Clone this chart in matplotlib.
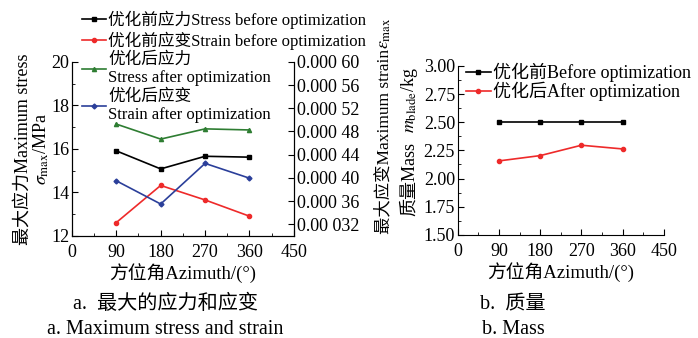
import matplotlib
matplotlib.use("Agg")
import matplotlib.pyplot as plt
from matplotlib.ticker import MultipleLocator, FixedLocator

plt.rcParams['font.family'] = ['Liberation Serif', 'Noto Sans CJK SC']
plt.rcParams['mathtext.fontset'] = 'stix'
plt.rcParams['xtick.direction'] = 'in'
plt.rcParams['ytick.direction'] = 'in'

# data
azimuth = [90, 180, 270, 360]
stress_before = [15.91, 15.08, 15.66, 15.62]
stress_after = [17.14, 16.45, 16.92, 16.87]
strain_before = [0.000323, 0.000387, 0.000362, 0.000334]
strain_after = [0.000395, 0.000355, 0.000425, 0.0003995]
mass_before = [2.50, 2.50, 2.50, 2.50]
mass_after = [2.157, 2.204, 2.296, 2.263]

xticks = [0, 90, 180, 270, 360, 450]
strain_ticks = [0.00032, 0.00036, 0.00040, 0.00044, 0.00048, 0.00052, 0.00056, 0.00060]
strain_labels = ['0.00 032', '0.000 36', '0.000 40', '0.000 44',
                 '0.000 48', '0.000 52', '0.000 56', '0.000 60']
mass_ticks = [1.50, 1.75, 2.00, 2.25, 2.50, 2.75, 3.00]

RED = '#ee2a2a'
GREEN = '#2e7d32'
BLUE = '#2b3f9a'

fig = plt.figure(figsize=(6.98, 3.38), dpi=100)


def tail_label(axis, math):
  # put a mathtext piece on top of a rotated ylabel (mathtext has no CJK glyphs)
  fig.canvas.draw()
  bb = axis.yaxis.label.get_window_extent()
  W, H = fig.bbox.width, fig.bbox.height
  fig.text((bb.x0 + bb.x1) / 2 / W, bb.y1 / H, math, rotation=90,
           ha='center', va='bottom', fontsize=13)


# ---- panel a ----
ax = fig.add_axes([0.103, 0.302, 0.318, 0.515])
ax2 = ax.twinx()
l1, = ax.plot(azimuth, stress_before, color='black', marker='s', ms=3, lw=1.2)
l3, = ax.plot(azimuth, stress_after, color=GREEN, marker='^', ms=3, lw=1.2)
l2, = ax2.plot(azimuth, strain_before, color=RED, marker='o', ms=3, lw=1.2)
l4, = ax2.plot(azimuth, strain_after, color=BLUE, marker='D', ms=2.5, lw=1.2)

ax.set_xlim(0, 450)
ax.set_ylim(12, 20)
ax.set_xticks(xticks)
ax.xaxis.set_minor_locator(MultipleLocator(45))
ax.set_yticks([12, 14, 16, 18, 20])
ax.yaxis.set_minor_locator(MultipleLocator(1))
ax2.set_ylim(0.00030, 0.00060)
ax2.yaxis.set_major_locator(FixedLocator(strain_ticks))
ax2.set_yticklabels(strain_labels)
ax.tick_params(labelsize=13, length=4, pad=2)
ax.tick_params(axis='x', pad=6)
ax.tick_params(which='minor', length=2)
ax2.tick_params(labelsize=13, length=4, pad=2, direction='in')
ax.spines['top'].set_visible(False)
ax2.spines['top'].set_visible(False)

ax.set_xlabel('方位角Azimuth/(°)', fontsize=13.5, labelpad=1)
ax.set_ylabel('最大应力Maximum stress\n' + r'$\sigma_{\mathrm{max}}$/MPa',
              fontsize=13, labelpad=0, linespacing=1.0)
ax2.set_ylabel('最大应变Maximum strain', fontsize=12.5, labelpad=1)
ax2.yaxis.set_label_coords(1.0 + 82 / 222.0, 0.54)

fig.legend([l1, l2, l3, l4],
           ['优化前应力Stress before optimization',
            '优化前应变Strain before optimization',
            '优化后应力\nStress after optimization',
            '优化后应变\nStrain after optimization'],
           loc='upper left', bbox_to_anchor=(0.113, 0.979), frameon=False,
           fontsize=12, handlelength=1.4, handletextpad=0.15,
           labelspacing=0.15, borderpad=0.2, borderaxespad=0)

fig.text(0.237, 0.098, 'a.  最大的应力和应变', ha='center', va='center', fontsize=14.5)
fig.text(0.237, 0.024, 'a. Maximum stress and strain', ha='center', va='center', fontsize=14.5)

# ---- panel b ----
bx = fig.add_axes([0.656, 0.305, 0.295, 0.50])
bx.plot(azimuth, mass_before, color='black', marker='s', ms=3, lw=1.2,
        label='优化前Before optimization')
bx.plot(azimuth, mass_after, color=RED, marker='o', ms=3, lw=1.2,
        label='优化后After optimization')
bx.set_xlim(0, 450)
bx.set_ylim(1.5, 3.0)
bx.set_xticks(xticks)
bx.xaxis.set_minor_locator(MultipleLocator(45))
bx.set_yticks(mass_ticks)
bx.yaxis.set_minor_locator(MultipleLocator(0.125))
bx.set_yticklabels(['%.2f' % v for v in mass_ticks])
bx.tick_params(labelsize=13, length=4, pad=2)
bx.tick_params(axis='x', pad=6)
bx.tick_params(which='minor', length=2)
bx.spines['top'].set_visible(False)
bx.spines['right'].set_visible(False)
bx.set_xlabel('方位角Azimuth/(°)', fontsize=13.5, labelpad=1)
bx.set_ylabel('质量Mass', fontsize=13, labelpad=2)
bx.yaxis.set_label_coords(-40 / 206.0, 0.33)
bx.legend(loc='upper left', bbox_to_anchor=(0.02, 1.04), frameon=False,
          fontsize=13, handlelength=1.4, handletextpad=0.1,
          labelspacing=0.0, borderpad=0.2, borderaxespad=0)

fig.text(0.735, 0.098, 'b.  质量', ha='center', va='center', fontsize=14.5)
fig.text(0.735, 0.024, 'b. Mass', ha='center', va='center', fontsize=14.5)

tail_label(ax2, r'$\varepsilon_{\mathrm{max}}$')
tail_label(bx, r'  $m_{\mathrm{blade}}$/kg')

fig.savefig('out.png', dpi=100)
